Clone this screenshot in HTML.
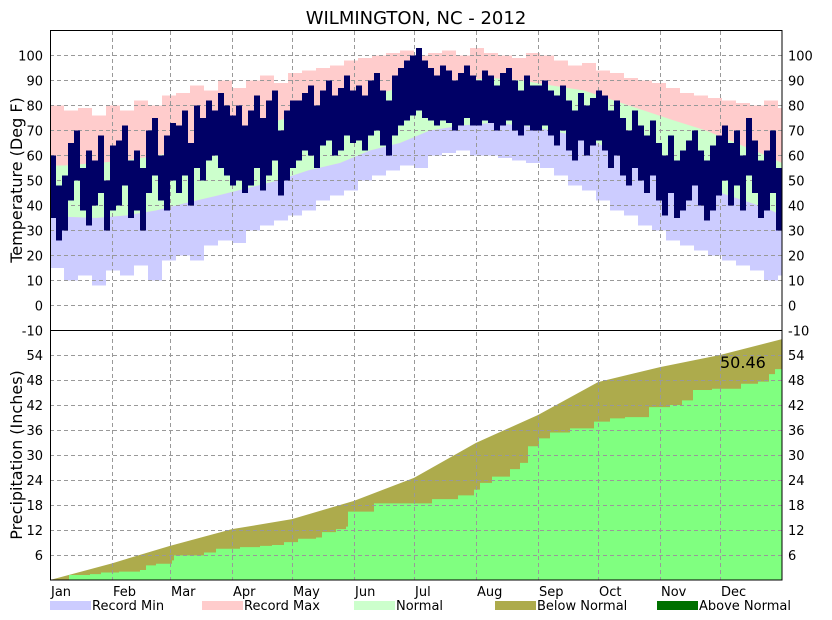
<!DOCTYPE html>
<html><head><meta charset="utf-8"><style>
body{margin:0;background:#fff;}
svg{display:block;font-family:"DejaVu Sans","Liberation Sans",sans-serif;}
</style></head><body>
<svg id="chart" width="832" height="620" xmlns="http://www.w3.org/2000/svg">
<defs>
<clipPath id="clipT"><rect x="50" y="31" width="732" height="299.5"/></clipPath>
<clipPath id="clipP"><rect x="50" y="330" width="732" height="250"/></clipPath>
</defs>
</svg>
<script>
// ---- data ----
const months = ["Jan","Feb","Mar","Apr","May","Jun","Jul","Aug","Sep","Oct","Nov","Dec"];
const monthStartDays = [0,31,60,91,121,152,182,213,244,274,305,335];
const tempTicks = [-10,0,10,20,30,40,50,60,70,80,90,100];
const precipTicks = [6,12,18,24,30,36,42,48,54];
const recMaxWeekly = [80,78,79,76,80, 78,82,80,84, 85,88,86,90,87, 90,92,89,93, 94,95,96,98, 99,100,101,102,100, 101,102,100,103, 101,100,99,101,100, 98,96,97,94, 93,91,90,89, 87,85,84,83, 82,81,80,82,79];
const recMinWeekly = [15,10,12,8,14, 12,16,10,18, 20,18,24,26,25, 30,32,34,36, 38,42,44,46, 50,52,54,56,55, 60,61,62,60, 60,59,58,57,55, 52,48,46,42, 38,36,32,30, 26,24,22,20, 18,16,14,10,12];
const normalDays = [0,7,23,38,53,68,84,99,114,129,145,160,175,190,206,221,236,251,267,282,297,312,328,343,358,366];
const normalHigh = [56,56,57,58,60,62,65,70,74,77,80,84,87,89,90,91,90,88,86,82,78,74,70,65,60,57];
const normalLow  = [35.5,35.5,35,36,38,41,44,47,50,54,57,62,65,70,72,73,72,70,67,62,58,52,47,43,39,36];
const actualHigh = [60,48,52,65,70,55,62,58,68,50,64, 66,72,58,62,55,70,75,60,68,73, 72,78,65,80,75,82,78,85,80,76, 80,72,78,84,75,82,86,70,78,82, 82,85,88,80,86,90,84,87,92,86, 88,84,90,93,86,82,92,95,98,100, 103,98,95,92,96,94,90,93,96,92, 90,94,92,88,93,95,90,86,92,88, 88,90,86,84,88,82,78,85,80,83, 86,84,78,82,75,70,78,72,68,74, 65,60,68,58,62,66,70,62,58,64, 68,72,65,70,60,75,66,58,62,70,55];
const actualLow = [35,26,30,42,50,38,32,40,45,30,38, 40,48,35,38,30,45,52,42,38,50, 45,52,40,55,50,58,60,55,52,48, 50,45,48,55,46,52,58,44,50,55, 58,62,60,55,64,66,60,62,68,65, 66,62,68,70,64,60,68,72,74,76, 78,75,74,72,74,73,70,72,75,72, 72,74,73,70,72,74,70,68,72,70, 70,72,68,64,70,62,58,66,60,64, 66,62,55,60,52,48,55,50,45,52, 42,36,45,35,38,42,48,40,34,38, 44,50,40,48,38,52,45,35,38,45,30];
const precipNormalDays = [0,31,60,91,121,152,182,213,244,274,305,335,366];
const precipNormal = [0,4.0,8.2,12.2,14.6,19.0,24.5,32.9,39.6,47.5,51.1,54.0,57.8];
const precipActualDays = [0,9.5,20,25.5,34.5,45,48,53,61,62,77,83,95,105,111,117,124,133,136,143,148,149,162,191,204,212,215,221,230,235,239,244.5,250,260,272,280,287.5,299.5,310,316,321.5,331,345.5,354,359.5,362.5];
const precipActual = [0,1.2,1.4,1.8,2.0,2.4,3.5,3.9,4.7,5.9,6.6,7.5,7.9,8.2,8.4,9.1,9.9,10.2,11.5,12.2,12.8,16.4,18.4,19.4,20.3,21.7,23.3,24.8,26.6,28.1,32.1,34.0,35.4,36.4,38.0,38.8,39.1,41.5,42.0,43.1,45.6,45.9,47.1,47.6,49.4,50.6];
const precipTotalLabel = "50.46";

// ---- axes ----
const X0=50, X1=782, NDAYS=366;
const xDay = d => X0 + d*(X1-X0)/NDAYS;
const yT = t => 305.5 - t*2.5;
const yP = p => 580 - p*(250/60);

const svg=document.getElementById('chart');
const NS="http://www.w3.org/2000/svg";
function mk(tag,attrs,parent){const e=document.createElementNS(NS,tag);for(const k in attrs)e.setAttribute(k,attrs[k]);(parent||svg).appendChild(e);return e;}

const gTemp=mk('g',{"clip-path":'url(#clipT)'});


recMaxWeekly.forEach((v,i)=>{
  const x=xDay(i*7), w=xDay(Math.min((i+1)*7,NDAYS))-x;
  const r=mk('rect',{x:x,y:yT(v),width:w,height:yT(-10)-yT(v),fill:'#ffcccc'},gTemp);
  
  
});
function polyPts(days,vals,yf){return days.map((d,i)=>xDay(d)+','+yf(vals[i]));}
const nb=mk('polygon',{points:polyPts(normalDays,normalHigh,yT).concat(polyPts(normalDays,normalLow,yT).reverse()).join(' '),fill:'#ccffcc'},gTemp);


const lowPts=polyPts(normalDays,normalLow,yT).join(' ');
const lav=mk('polygon',{points:lowPts+' '+xDay(366)+','+yT(-10)+' '+xDay(0)+','+yT(-10),fill:'#ccccff'},gTemp);


recMinWeekly.forEach((v,i)=>{
  const x=xDay(i*7), w=xDay(Math.min((i+1)*7,NDAYS))-x;
  const r=mk('rect',{x:x,y:yT(v),width:w,height:yT(-10)-yT(v),fill:'#ffffff'},gTemp);
  
  
});

const gP=mk('g',{"clip-path":'url(#clipP)'});


const pn=mk('polygon',{points:polyPts(precipNormalDays,precipNormal,yP).concat([xDay(366)+','+yP(0),xDay(0)+','+yP(0)]).join(' '),fill:'#adab4c'},gP);


let pts=[];
precipActualDays.forEach((d,i)=>{
  if(i>0)pts.push(xDay(d)+','+yP(precipActual[i-1]));
  pts.push(xDay(d)+','+yP(precipActual[i]));
});
pts.push(X1+','+yP(precipActual[precipActual.length-1]));
pts.push(X1+','+yP(0));pts.push(X0+','+yP(0));
const pa=mk('polygon',{points:pts.join(' '),fill:'#80ff80'},gP);



const grid=mk('g',{stroke:'#999',"stroke-width":1,"stroke-dasharray":'4,3'});


monthStartDays.slice(1).forEach(d=>{const x=Math.round(xDay(d))+0.5;mk('line',{x1:x,y1:31,x2:x,y2:580},grid);});
tempTicks.slice(1).forEach(t=>mk('line',{x1:X0,y1:yT(t),x2:X1,y2:yT(t)},grid));
precipTicks.forEach(p=>{const y=Math.round(yP(p))+0.5;mk('line',{x1:X0,y1:y,x2:X1,y2:y},grid);});

const gA=mk('g',{"clip-path":'url(#clipT)'});


const bw=(X1-X0)/actualHigh.length;
actualHigh.forEach((h,i)=>{
  const l=actualLow[i];
  const r=mk('rect',{x:X0+i*bw,y:yT(h),width:bw,height:yT(l)-yT(h),fill:'#000066'},gA);
  
  
});

const fr=mk('rect',{x:50.5,y:30.5,width:731.5,height:549.5,fill:'none',stroke:'#000'});

const sep=mk('line',{x1:50,y1:330.5,x2:782,y2:330.5,stroke:'#000'});


function txt(s,x,y,attrs,name){const t=mk('text',Object.assign({x:x,y:y,"font-size":13,fill:'#000'},attrs||{}));t.textContent=s;return t;}
tempTicks.forEach(t=>{
  txt(String(t),43,yT(t)+5,{"text-anchor":'end'},'temp-tick-left');
  txt(String(t),788,yT(t)+5,{},'temp-tick-right');
});
precipTicks.forEach(p=>{
  txt(String(p),43,yP(p)+5,{"text-anchor":'end'},'precip-tick-left');
  txt(String(p),788,yP(p)+5,{},'precip-tick-right');
});
months.forEach((m,i)=>txt(m,xDay(monthStartDays[i])+1,596,{},'month-label'));

txt("WILMINGTON, NC - 2012",416,24,{"text-anchor":'middle',"font-size":18},'chart-title');
txt("Temperature (Deg F)",22,180,{"text-anchor":'middle',"font-size":16,transform:'rotate(-90 22 180)'},'y-axis-title-temp');
txt("Precipitation (Inches)",22,455,{"text-anchor":'middle',"font-size":16,transform:'rotate(-90 22 455)'},'y-axis-title-precip');
txt(precipTotalLabel,720,368,{"font-size":16},'precip-total-label');

const legend=[["Record Min","#ccccff",50],["Record Max","#ffcccc",202],["Normal","#ccffcc",354],["Below Normal","#adab4c",495],["Above Normal","#007000",657]];
legend.forEach(([l,c,x])=>{
  const r=mk('rect',{x:x,y:601,width:41,height:9,fill:c});
  
  
  txt(l,x+42,610,{},'legend-entry');
});
</script>
</body></html>
